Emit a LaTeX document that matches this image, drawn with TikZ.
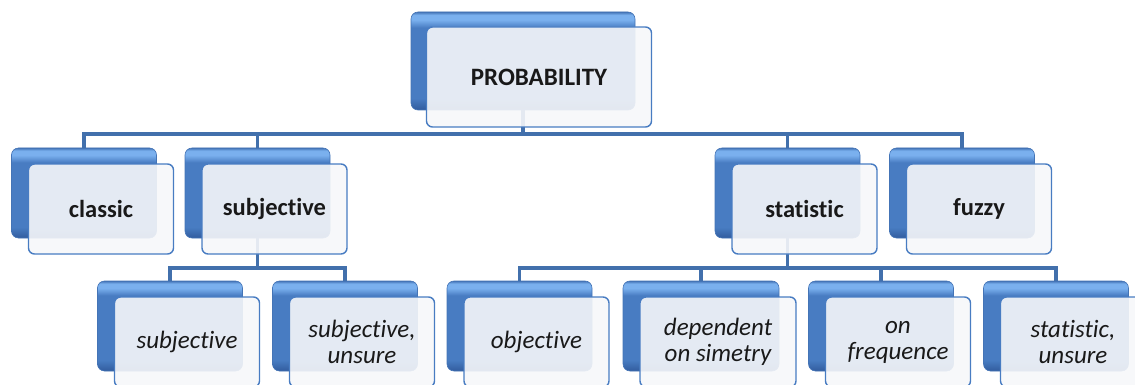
\documentclass[tikz,border=0pt]{standalone}
\usepackage{fontspec}
\setmainfont{Carlito}[Ligatures=NoCommon]
\usetikzlibrary{positioning}
\usetikzlibrary{calc}
\definecolor{boxblue}{RGB}{72,124,194}
\definecolor{boxlight}{RGB}{122,176,238}
\definecolor{boxrim}{RGB}{68,116,182}
\definecolor{boxbot}{RGB}{50,92,158}
\definecolor{linkblue}{RGB}{66,112,172}
\definecolor{panel}{RGB}{246,247,249}
\definecolor{ink}{RGB}{25,25,25}

% glossy blue for the back plates
\pgfdeclareverticalshading{gloss}{100bp}{color(0bp)=(boxbot); color(25bp)=(boxbot);
  color(31bp)=(boxblue); color(67bp)=(boxblue); color(71bp)=(boxlight);
  color(73.5bp)=(boxlight); color(75bp)=(boxrim); color(100bp)=(boxrim)}

\begin{document}
\begin{tikzpicture}[x=1pt,y=-1pt,
  backbox/.style={rectangle, rounded corners=7pt, draw=boxrim, line width=0.6pt,
    shading=gloss, minimum width=145pt, minimum height=90pt, inner sep=0pt},
  frontbox/.style={rectangle, rounded corners=6pt, draw=boxblue, line width=1.4pt,
    fill=panel, fill opacity=0.9, text opacity=1, text=ink, align=center,
    minimum width=145pt, minimum height=90pt, inner sep=0pt},
  lvltwo/.style={font=\fontsize{24.5}{26}\selectfont\bfseries},
  lvlthree/.style={font=\fontsize{25}{26}\selectfont\itshape},
  link/.style={draw=linkblue, line width=3.5pt, line join=miter}]

\path[use as bounding box, clip] (0,0) rectangle (1135,385);

%---------------------------------------
% Back plates
%---------------------------------------
\node[backbox, minimum width=224pt, minimum height=98pt] (prob) at (523,61) {};

% second row
\node[backbox] (classic) at (84,193)    {};
\node[backbox] (subj)    at (257.5,193) {};
\node[backbox] (stat)    at (787.5,193) {};
\node[backbox] (fuzzy)   at (962,193)   {};

% third row
\node[backbox] (subj-a) at (170,326)   {};
\node[backbox] (subj-b) at (345,326)   {};
\node[backbox] (stat-a) at (519.5,326) {};
\node[backbox, minimum width=156pt] (stat-b) at (701,326) {};
\node[backbox] (stat-c) at (881,326)   {};
\node[backbox] (stat-d) at (1056,326)  {};

%---------------------------------------
% Connectors
%---------------------------------------
\coordinate (bar1) at (0,134);
\coordinate (bar2) at (0,268);

\foreach \n in {classic,subj,stat,fuzzy}
  \draw[link] (prob.south) -- (prob.south |- bar1) -| (\n.north);

\foreach \n in {subj-a,subj-b}
  \draw[link] (subj.south) -- (subj.south |- bar2) -| (\n.north);

\foreach \n in {stat-a,stat-b,stat-c,stat-d}
  \draw[link] (stat.south) -- (stat.south |- bar2) -| (\n.north);

%---------------------------------------
% Front panels with the labels
%---------------------------------------
\node[frontbox, minimum width=225pt, minimum height=100pt,
  font=\fontsize{25}{26}\selectfont\bfseries]
  (prob-f) at ([shift={(16,16)}]prob.center) {PROBABILITY};

\node[frontbox, lvltwo] (classic-f) at ([shift={(17,16)}]classic.center) {classic};
\node[frontbox, lvltwo] (subj-f)    at ([shift={(17,16)}]subj.center)    {subjective};
\node[frontbox, lvltwo] (stat-f)    at ([shift={(17,16)}]stat.center)    {statistic};
\node[frontbox, lvltwo] (fuzzy-f)   at ([shift={(17,16)}]fuzzy.center)   {fuzzy};

\node[frontbox, lvlthree] (subj-a-f) at ([shift={(17,16)}]subj-a.center) {subjective};
\node[frontbox, lvlthree] (subj-b-f) at ([shift={(17,16)}]subj-b.center) {subjective,\\unsure};
\node[frontbox, lvlthree] (stat-a-f) at ([shift={(17,16)}]stat-a.center) {objective};
\node[frontbox, lvlthree, minimum width=156pt]
  (stat-b-f) at ([shift={(17,16)}]stat-b.center) {dependent\\on simetry};
\node[frontbox, lvlthree] (stat-c-f) at ([shift={(17,16)}]stat-c.center) {on\\frequence};
\node[frontbox, lvlthree] (stat-d-f) at ([shift={(17,16)}]stat-d.center) {statistic,\\unsure};

\end{tikzpicture}
\end{document}
